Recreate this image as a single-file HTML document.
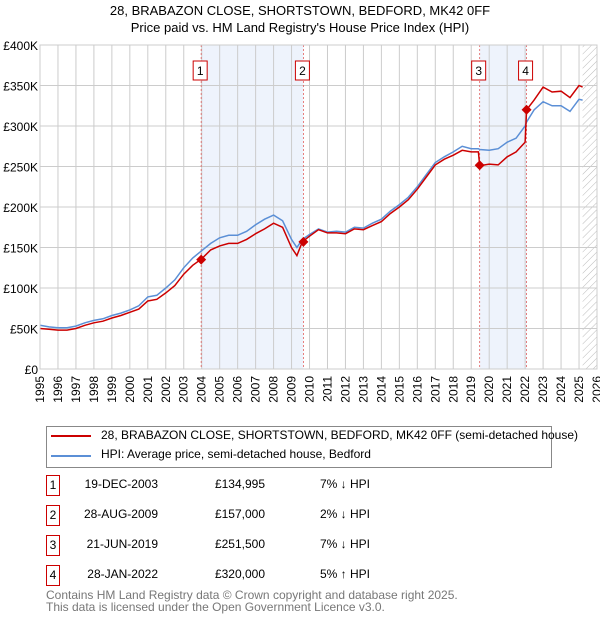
<!DOCTYPE html>
<html><head><meta charset="utf-8"><style>
body{margin:0;background:#fff;font-family:"Liberation Sans","DejaVu Sans",sans-serif;}
#wrap{position:relative;width:600px;height:620px;overflow:hidden;}
.t{position:absolute;font-size:12px;color:#000;white-space:nowrap;}
.nb{position:absolute;width:12px;height:19px;border:1px solid #c00;font-size:12px;text-align:center;line-height:19px;}
</style></head><body><div id="wrap">
<div class="t" style="left:0;width:600px;text-align:center;top:2px;font-size:13px;line-height:17px">28, BRABAZON CLOSE, SHORTSTOWN, BEDFORD, MK42 0FF<br>Price paid vs. HM Land Registry's House Price Index (HPI)</div>
<svg id="chart" width="600" height="420" style="position:absolute;left:0;top:0"></svg>
<div style="position:absolute;left:46px;top:426px;width:504px;height:40px;border:1px solid #888;"></div>
<div style="position:absolute;left:51px;top:435px;width:40px;height:2px;background:#c00"></div>
<div class="t" style="left:101px;top:428px">28, BRABAZON CLOSE, SHORTSTOWN, BEDFORD, MK42 0FF (semi-detached house)</div>
<div style="position:absolute;left:51px;top:455px;width:40px;height:2px;background:#5b8fd6"></div>
<div class="t" style="left:101px;top:447px">HPI: Average price, semi-detached house, Bedford</div>
<div id="table"></div>
<div class="t" style="left:46px;top:589px;color:#777;line-height:12px">Contains HM Land Registry data © Crown copyright and database right 2025.<br>This data is licensed under the Open Government Licence v3.0.</div>
</div>
<script>
const years=[1995,1995.5,1996,1996.5,1997,1997.5,1998,1998.5,1999,1999.5,2000,2000.5,2001,2001.5,2002,2002.5,2003,2003.5,2004,2004.5,2005,2005.5,2006,2006.5,2007,2007.5,2008,2008.5,2009,2009.3,2009.6,2010,2010.5,2011,2011.5,2012,2012.5,2013,2013.5,2014,2014.5,2015,2015.5,2016,2016.5,2017,2017.5,2018,2018.5,2019,2019.4,2019.47,2020,2020.5,2021,2021.5,2022,2022.08,2022.5,2023,2023.5,2024,2024.5,2025,2025.2];
const hpiValues=[54,52,51,51,53,57,60,62,66,69,73,78,89,91,100,110,125,137,146,155,162,165,165,170,178,185,190,183,160,150,160,166,173,169,170,169,175,174,180,185,195,203,212,225,240,255,262,268,275,272,272,271,270,272,280,285,300,305,320,330,325,325,318,333,332];
const priceValues=[50,49,48,48,50,54,57,59,63,66,70,74,84,86,94,103,117,128,136,147,152,155,155,160,167,173,180,175,150,140,157,164,172,168,168,167,173,172,177,182,192,200,209,222,237,252,259,264,270,268,268,251,253,252,262,268,280,320,332,348,342,343,335,350,348];
const saleDates=[2003.97,2009.66,2019.47,2022.08];
const salePrices=[134995,157000,251500,320000];
const saleLabels=["19-DEC-2003","28-AUG-2009","21-JUN-2019","28-JAN-2022"];
const salePriceText=["£134,995","£157,000","£251,500","£320,000"];
const saleHpiText=["7% ↓ HPI","2% ↓ HPI","7% ↓ HPI","5% ↑ HPI"];
const yTicks=[0,50,100,150,200,250,300,350,400];
const xTicks=[1995,1996,1997,1998,1999,2000,2001,2002,2003,2004,2005,2006,2007,2008,2009,2010,2011,2012,2013,2014,2015,2016,2017,2018,2019,2020,2021,2022,2023,2024,2025,2026];
const L=40,R=597,T=45,B=369;
const x=v=>L+(v-1995)/31*(R-L);
const y=v=>B-v/400*(B-T);
const NS="http://www.w3.org/2000/svg";
const svg=document.getElementById('chart');
function mk(tag,attrs,name){const e=document.createElementNS(NS,tag);for(const k in attrs)e.setAttribute(k,attrs[k]);


svg.appendChild(e);return e;}
const defs=mk('defs',{},'defs');
defs.innerHTML='<pattern id="hatch" width="5" height="5" patternUnits="userSpaceOnUse" patternTransform="rotate(45)"><line x1="0" y1="0" x2="0" y2="5" stroke="#bbb" stroke-width="1"/></pattern>';
mk('rect',{x:x(saleDates[0]),y:T,width:x(saleDates[1])-x(saleDates[0]),height:B-T,fill:'#eef3fc'},'shade-period-1');
mk('rect',{x:x(saleDates[2]),y:T,width:x(saleDates[3])-x(saleDates[2]),height:B-T,fill:'#eef3fc'},'shade-period-2');
mk('rect',{x:x(2025.2),y:T,width:R-x(2025.2),height:B-T,fill:'url(#hatch)'},'future-hatch');
xTicks.forEach(v=>{mk('line',{x1:x(v),x2:x(v),y1:T,y2:B,stroke:'#ccc'},'x-gridline');
const t=mk('text',{x:0,y:0,'text-anchor':'end','font-size':12,fill:'#000',transform:`translate(${(x(v)+4).toFixed(1)},${B+7}) rotate(-90)`},'x-tick-label');t.textContent=v;});
yTicks.forEach(v=>{mk('line',{x1:L,x2:R,y1:y(v),y2:y(v),stroke:'#ccc'},'y-gridline');
const t=mk('text',{x:L-2,y:y(v)+5,'text-anchor':'end','font-size':12,fill:'#000'},'y-tick-label');t.textContent=v?'£'+v+'K':'£0';});
saleDates.forEach((d,i)=>mk('line',{x1:x(d),x2:x(d),y1:T,y2:B,stroke:'#e06060','stroke-dasharray':'2,2','stroke-width':0.8},'sale-line-'+(i+1)));
const pts=a=>years.map((v,i)=>x(v).toFixed(1)+','+y(a[i]).toFixed(1)).join(' ');
mk('polyline',{points:pts(hpiValues),fill:'none',stroke:'#5b8fd6','stroke-width':1.5},'hpi-line');
mk('polyline',{points:pts(priceValues),fill:'none',stroke:'#c00','stroke-width':1.5},'price-line');
saleDates.forEach((d,i)=>{const cx=x(d),cy=y(salePrices[i]/1000);
mk('path',{d:`M${cx},${cy-5}L${cx+5},${cy}L${cx},${cy+5}L${cx-5},${cy}Z`,fill:'#c00'},'sale-marker-'+(i+1));
mk('rect',{x:cx-8,y:61,width:14,height:19,fill:'#fff',stroke:'#c00'},'sale-badge-'+(i+1));
const t=mk('text',{x:cx-1,y:75,'text-anchor':'middle','font-size':12},'sale-badge-label-'+(i+1));t.textContent=i+1;});
mk('rect',{x:L,y:T,width:R-L,height:B-T,fill:'none',stroke:'#ccc'},'plot-border');
const tb=document.getElementById('table');
saleLabels.forEach((s,i)=>{const top=480+i*30;
tb.insertAdjacentHTML('beforeend',
`<div class="nb" style="left:46px;top:${top-5}px">${i+1}</div>`+
`<div class="t" style="left:70px;width:88px;text-align:right;top:${top-3}px">${s}</div>`+
`<div class="t" style="left:200px;width:65px;text-align:right;top:${top-3}px">${salePriceText[i]}</div>`+
`<div class="t" style="left:320px;top:${top-3}px">${saleHpiText[i]}</div>`);});
</script></body></html>
